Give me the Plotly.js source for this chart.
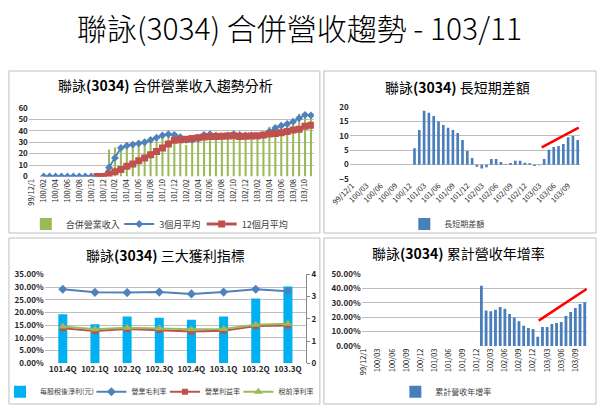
<!DOCTYPE html>
<html><head><meta charset="utf-8">
<script src="https://cdn.plot.ly/plotly-3.0.1.min.js"></script>
<style>html,body{margin:0;padding:0;background:#fff}#chart{width:600px;height:407px}</style>
</head><body><div id="chart"></div>
<script>
// ---- categories ----
const months = ["99/12/1","100/01","100/02","100/03","100/04","100/05","100/06","100/07","100/08","100/09","100/10","100/11","100/12",
"101/01","101/02","101/03","101/04","101/05","101/06","101/07","101/08","101/09","101/10","101/11","101/12",
"102/01","102/02","102/03","102/04","102/05","102/06","102/07","102/08","102/09","102/10","102/11","102/12",
"103/01","103/02","103/03","103/04","103/05","103/06","103/07","103/08","103/09","103/10","103/11"];
const ticksEvery2 = ["99/12/1","100/02","100/04","100/06","100/08","100/10","100/12","101/02","101/04","101/06","101/08","101/10","101/12","102/02","102/04","102/06","102/08","102/10","102/12","103/02","103/04","103/06","103/08","103/10"];
const ticksEvery3 = ["99/12/1","100/03","100/06","100/09","100/12","101/03","101/06","101/09","101/12","102/03","102/06","102/09","102/12","103/03","103/06","103/09"];
const quarters = ["101.4Q","102.1Q","102.2Q","102.3Q","102.4Q","103.1Q","103.2Q","103.3Q"];

// ---- chart 1: revenue ----
const revenue = [null,null,null,null,null,null,null,null,null,null,null,null,null,
23.6,25.4,26.0,29.6,28.4,29.0,32.6,34.4,35.0,38.6,37.4,33.5,
34.1,27.5,36.0,37.5,37.5,37.0,36.0,35.5,36.0,38.5,35.5,35.0,
37.0,34.5,38.5,43.5,44.5,45.5,47.5,50.5,55.0,55.5,51.0];
const avg3 = [null,null,0,0,0,0,0,0,0,0,0,0,0,
7.9,16.3,25.0,27.0,28.0,29.0,30.0,32.0,34.0,36.0,37.0,36.5,
34.5,32.0,32.0,33.0,36.5,37.0,36.0,35.3,36.0,37.0,36.5,36.0,
36.0,35.3,36.2,39.5,42.5,44.5,46.0,48.0,51.0,54.0,53.5];
const avg12 = [null,null,null,null,null,null,null,null,null,null,null,0,0,
2.2,4.2,6.2,8.9,11.0,13.9,16.2,19.1,21.9,25.0,28.4,31.7,
32.2,32.7,33.3,33.9,34.5,35.0,35.1,35.2,35.4,35.6,35.1,35.3,
35.5,35.8,36.4,37.2,37.6,38.3,39.5,40.8,41.4,44.0,44.9];

// ---- chart 2: long/short difference ----
const diff = [null,null,null,null,null,null,null,null,null,null,null,null,null,
5.7,12.1,18.8,18.1,17.0,15.1,13.8,12.9,12.1,11.0,8.6,4.8,
2.3,-0.7,-1.3,-0.9,2.0,2.0,0.9,0.1,0.6,1.4,1.4,0.7,
0.5,-0.5,-0.2,2.0,5.2,6.2,6.5,7.2,9.6,10.0,8.6];

// ---- chart 3: profitability ----
const eps = [2.20,1.75,2.10,2.05,1.96,2.10,2.91,3.45];
const grossMargin = [0.291,0.279,0.278,0.280,0.273,0.280,0.291,0.283];
const opMargin = [0.138,0.127,0.135,0.131,0.125,0.128,0.147,0.149];
const preTaxMargin = [0.145,0.134,0.140,0.138,0.134,0.135,0.152,0.156];

// ---- chart 4: cumulative YoY ----
const yoy = [null,null,null,null,null,null,null,null,null,null,null,null,null,
null,null,null,null,null,null,null,null,null,null,null,null,
0.421,0.247,0.242,0.253,0.272,0.260,0.223,0.198,0.172,0.142,0.126,0.119,
0.065,0.133,0.133,0.153,0.160,0.167,0.209,0.237,0.265,0.293,0.305];

// trend lines drawn on charts 2 and 4 (annotation strokes, data coords)
const trend2 = {x0: 39.5, y0: 6.0, x1: 47.2, y1: 12.9};
const trend4 = {x0: 37.2, y0: 0.177, x1: 47.4, y1: 0.398};

const W = 600, H = 407;
const px = x => x / W, py = y => 1 - y / H;
const FONT = '"Noto Sans CJK TC", "Noto Sans", sans-serif';
const GRID = '#BFBFBF';
const TICKC = '#262626';

const data = [
  {type:'bar', x: months, y: revenue, name:'合併營業收入', marker:{color:'#9BBB59'}, width:0.35, xaxis:'x', yaxis:'y', legend:'legend'},
  {type:'scatter', mode:'lines+markers', x: months, y: avg3, name:'3個月平均', line:{color:'#4F81BD', width:1.8}, marker:{symbol:'diamond', size:6, color:'#4F81BD'}, xaxis:'x', yaxis:'y', legend:'legend2'},
  {type:'scatter', mode:'lines+markers', x: months, y: avg12, name:'12個月平均', line:{color:'#C0504D', width:3}, marker:{symbol:'square', size:7, color:'#C0504D'}, xaxis:'x', yaxis:'y', legend:'legend3'},

  {type:'bar', x: months, y: diff, name:'長短期差額', marker:{color:'#4A7EBB'}, width:0.55, xaxis:'x2', yaxis:'y2', legend:'legend4'},

  {type:'bar', x: quarters, y: eps, name:'每股稅後淨利(元)', marker:{color:'#00B0F0'}, width:0.28, xaxis:'x3', yaxis:'y3', legend:'legend5'},
  {type:'scatter', mode:'lines+markers', x: quarters, y: grossMargin, name:'營業毛利率', line:{color:'#4F81BD', width:2}, marker:{symbol:'diamond', size:7, color:'#4F81BD'}, xaxis:'x3', yaxis:'y5', legend:'legend6'},
  {type:'scatter', mode:'lines+markers', x: quarters, y: opMargin, name:'營業利益率', line:{color:'#C0504D', width:2}, marker:{symbol:'square', size:6, color:'#C0504D'}, xaxis:'x3', yaxis:'y5', legend:'legend7'},
  {type:'scatter', mode:'lines+markers', x: quarters, y: preTaxMargin, name:'稅前淨利率', line:{color:'#9BBB59', width:2}, marker:{symbol:'triangle-up', size:8, color:'#9BBB59'}, xaxis:'x3', yaxis:'y5', legend:'legend8'},

  {type:'bar', x: months, y: yoy, name:'累計營收年增率', marker:{color:'#4A7EBB'}, width:0.6, xaxis:'x4', yaxis:'y4', legend:'legend9'}
];

const tickf = {family: FONT, size: 8, color: TICKC, weight: 600};
const monthAxis = (d, anchor, tv, angle) => ({
  domain: d, anchor: anchor, type:'category', categoryorder:'array', categoryarray: months,
  range:[-0.5, 47.5], tickmode:'array', tickvals: tv, ticktext: tv, tickangle: angle,
  tickfont:{family: FONT, size: 7.5, color: TICKC}, showgrid:false, showline:false, ticks:'', automargin:false
});

// one legend per entry; legX = left edge of the legend box in px (text starts ~40px to the right)
const leg = (legX, y, size) => ({
  x: px(legX), y: py(y), xanchor:'left', yanchor:'middle', orientation:'h', bgcolor:'rgba(0,0,0,0)',
  font:{family: FONT, size: size, color:'#404040'}, itemwidth:30, borderwidth:0
});

const panels = [[5,71,318,233],[322,71,596,233],[5,238,318,404],[322,238,596,404]];
const shapes = panels.map(p => ({type:'rect', xref:'paper', yref:'paper', x0:px(p[0]), x1:px(p[2]), y0:py(p[3]), y1:py(p[1]), line:{color:'#BFBFBF', width:1}, fillcolor:'rgba(0,0,0,0)', layer:'below'}));
shapes.push({type:'line', xref:'x2', yref:'y2', x0:trend2.x0, y0:trend2.y0, x1:trend2.x1, y1:trend2.y1, line:{color:'#FF0000', width:2.5}});
shapes.push({type:'line', xref:'x4', yref:'y4', x0:trend4.x0, y0:trend4.y0, x1:trend4.x1, y1:trend4.y1, line:{color:'#FF0000', width:2.5}});

const titleAnn = (text, x, y, size, weight) => ({text: text, x: px(x), y: py(y), xref:'paper', yref:'paper', xanchor:'center', yanchor:'middle', showarrow:false, font:{family: FONT, size: size, color:'#000', weight: weight || 400}});

const layout = {
  width: W, height: H, margin:{l:0,r:0,t:0,b:0}, paper_bgcolor:'#fff', plot_bgcolor:'rgba(0,0,0,0)',
  font:{family: FONT},
  barmode:'overlay',
  xaxis: monthAxis([px(25), px(312)], 'y', ticksEvery2, -90),
  yaxis: {domain:[py(176.5), py(108)], anchor:'x', range:[0,60], dtick:10, gridcolor:GRID, zeroline:false, tickfont:tickf, ticks:'', automargin:false},
  xaxis2: monthAxis([px(348), px(580)], 'y2', ticksEvery3, -45),
  yaxis2: {domain:[py(179), py(107.3)], anchor:'x2', range:[-5,20], dtick:5, gridcolor:GRID, zeroline:true, zerolinecolor:GRID, zerolinewidth:1, tickfont:tickf, ticks:'', automargin:false},
  xaxis3: {domain:[px(41), px(304)], anchor:'y3', type:'category', tickfont:{family: FONT, size: 8, color: TICKC, weight: 600}, showgrid:false, ticks:'', automargin:false},
  yaxis3: {domain:[py(363.3), py(274.3)], anchor:'x3', side:'right', range:[0,4], dtick:1, showgrid:false, zeroline:false, showline:true, linecolor:'#868686', ticks:'outside', ticklen:3, tickcolor:'#868686', tickfont:tickf, automargin:false},
  yaxis5: {overlaying:'y3', anchor:'x3', side:'left', range:[0,0.35], dtick:0.05, tickformat:'.2%', gridcolor:GRID, zeroline:false, tickfont:tickf, ticks:'', automargin:false},
  xaxis4: monthAxis([px(360), px(587)], 'y4', ticksEvery3, -90),
  yaxis4: {domain:[py(346), py(274.3)], anchor:'x4', range:[0,0.5], dtick:0.1, tickformat:'.2%', gridcolor:GRID, zeroline:false, tickfont:tickf, ticks:'', automargin:false},
  legend:  leg(22, 224, 9),
  legend2: leg(116, 224, 9),
  legend3: leg(199, 224, 9),
  legend4: leg(403, 224, 8),
  legend5: leg(-4, 391.7, 7),
  legend6: leg(88, 391.7, 7),
  legend7: leg(162, 391.7, 7),
  legend8: leg(236, 391.7, 7),
  legend9: leg(394, 391.7, 8),
  shapes: shapes,
  annotations: [
    titleAnn('聯詠(3034) 合併營收趨勢 - 103/11', 297, 27, 30, 300),
    titleAnn('聯詠<b>(3034)</b> 合併營業收入趨勢分析', 163, 85, 14),
    titleAnn('聯詠<b>(3034)</b> 長短期差額', 457, 86.7, 14),
    titleAnn('聯詠<b>(3034)</b> 三大獲利指標', 162.5, 255, 14),
    titleAnn('聯詠<b>(3034)</b> 累計營收年增率', 458, 253.3, 14)
  ],
  showlegend: true
};

Plotly.newPlot('chart', data, layout, {displayModeBar:false, staticPlot:true});
</script>
</body></html>
